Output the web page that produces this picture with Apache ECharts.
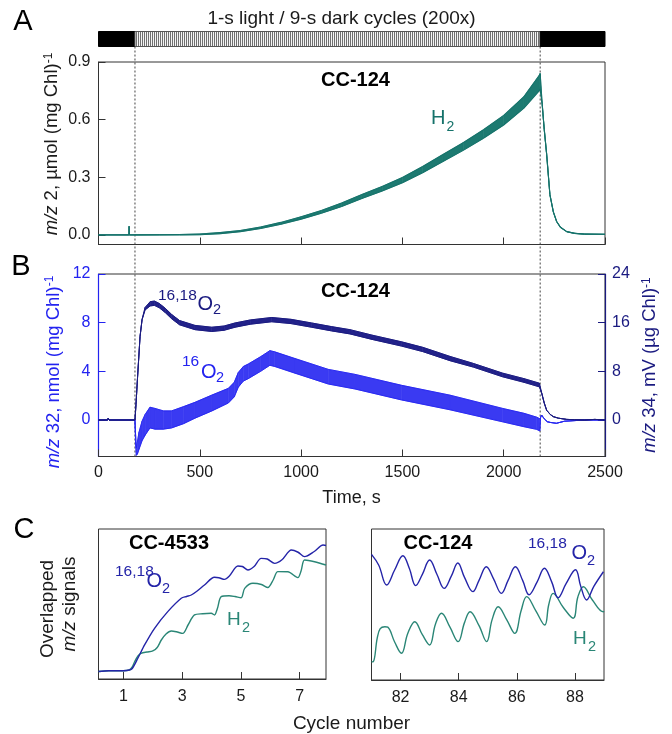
<!DOCTYPE html>
<html><head><meta charset="utf-8">
<script src="https://cdn.jsdelivr.net/npm/echarts@6/dist/echarts.min.js"></script>
<style>html,body{margin:0;padding:0;background:#fff}#c{width:672px;height:734px}</style>
</head><body><div id="c"></div>
<script>
// ---------------- data ----------------
const timeTicks = [0, 500, 1000, 1500, 2000, 2500];
const aTicks = [0, 0.3, 0.6, 0.9];
const bLeftTicks = [0, 4, 8, 12];
const bRightTicks = [0, 8, 16, 24];
const c1Ticks = [1, 3, 5, 7];
const c2Ticks = [82, 84, 86, 88];

const lightStart = [0, 180, 2180];
const lightEnd = [180, 2180, 2500];
const lightKind = ['dark', 'cycles', 'dark'];
const dashedTimes = [180, 2180];

// Panel A: H2 envelope (umol/mg Chl)
const h2Time = [0,150,151,152,180,300,400,500,600,700,800,900,1000,1100,1200,1300,1400,1500,1600,1700,1800,1900,2000,2100,2175,2180,2190,2200,2212,2228,2245,2261,2280,2311,2350,2400,2500];
const h2Low  = [0,0,0,0,0,0,0,0.001,0.006,0.017,0.033,0.055,0.082,0.113,0.148,0.19,0.228,0.271,0.324,0.382,0.44,0.503,0.572,0.66,0.75,0.76,0.68,0.55,0.42,0.21,0.12,0.07,0.04,0.017,0.008,0.004,0.003];
const h2High = [0,0,0.045,0,0,0.001,0.002,0.005,0.012,0.023,0.041,0.065,0.094,0.127,0.166,0.21,0.252,0.299,0.356,0.418,0.48,0.547,0.622,0.72,0.83,0.84,0.68,0.55,0.42,0.21,0.12,0.07,0.04,0.017,0.008,0.004,0.003];

// Panel B: 16,18O2 (m/z 34, right axis) envelope
const o1618Time = [0,45,48,52,180,185,192,205,215,230,255,276,300,330,361,400,476,559,620,674,750,855,950,1052,1150,1241,1350,1496,1600,1735,1850,1995,2100,2176,2187,2200,2212,2230,2245,2270,2311,2350,2400,2450,2500];
const o1618Low  = [0,0,0.3,0,0,2.5,6.6,13.7,16.5,18.1,18.75,18.85,18.45,17.65,16.65,15.65,14.85,14.55,14.75,15.25,15.75,16.15,15.85,15.25,14.65,14.15,13.25,12.15,11.25,9.75,8.7,7.1,6.2,5.45,4.5,2.8,1.6,0.9,0.55,0.3,0.1,0.05,0,0.1,0];
const o1618High = [0,0,0.3,0,0,2.5,6.6,13.7,16.5,18.5,19.45,19.55,19.15,18.35,17.35,16.35,15.55,15.25,15.45,15.95,16.45,16.85,16.55,15.95,15.35,14.85,13.95,12.85,11.95,10.45,9.3,7.7,6.8,6.05,4.5,2.8,1.6,0.9,0.55,0.3,0.1,0.05,0,0.1,0];

// Panel B: 16O2 (m/z 32, left axis) envelope
const o16Time = [0,45,48,52,180,183,187,192,200,215,230,254,279,320,361,420,476,560,641,670,690,715,739,800,846,870,970,1134,1266,1496,1735,1995,2100,2163,2178,2182,2187,2200,2215,2230,2260,2300,2400,2500];
const o16Low  = [0,0,0.1,0,0,-1.8,-2.9,-2.8,-2.4,-1.7,-1.25,-0.65,-0.75,-0.75,-0.65,-0.3,0.15,0.75,1.4,1.9,2.7,3.2,3.4,4.0,4.5,4.4,3.85,2.96,2.55,1.65,0.84,-0.15,-0.55,-0.77,-0.9,0.2,0.41,0.1,-0.14,-0.2,-0.27,-0.1,0,0];
const o16High = [0,0,0.1,0,0,-1.2,-2.3,-1.8,-1.0,-0.1,0.45,1.05,0.95,0.75,0.75,1.1,1.45,2.05,2.6,3.1,3.9,4.4,4.6,5.2,5.7,5.6,5.05,4.16,3.75,2.85,2.04,0.95,0.55,0.23,0.1,0.2,0.41,0.1,-0.14,-0.2,-0.27,-0.1,0,0];

// Panel C left: CC-4533 (arbitrary units)
const c1O2Cycle = [0.15,0.5,1.0,1.2,1.3,1.49,1.72,2.06,2.51,2.97,3.15,3.31,3.5,3.76,4.1,4.25,4.44,4.6,4.9,5.05,5.24,5.45,5.69,5.9,6.15,6.4,6.72,6.95,7.17,7.5,7.8,7.9];
const c1O2Signal = [5,5.5,5.5,6,7,13.8,22.7,33.8,44.9,53.8,55,56,58.5,62.7,67.8,67.5,66.4,68.5,75.3,75,72.7,75,80.4,80,77.1,79.5,86,84.5,81.6,85,89.3,89];
const c1H2Cycle = [0.15,0.5,1.0,1.2,1.3,1.38,1.5,1.6,1.8,2.0,2.15,2.29,2.45,2.63,2.8,3.02,3.2,3.42,3.7,3.99,4.1,4.2,4.33,4.6,4.8,5.01,5.13,5.41,5.7,5.92,6.1,6.26,6.6,6.94,7.05,7.17,7.51,7.9];
const c1H2Signal = [5,5.5,5.5,6,8,11.5,15.5,17.1,18,18.7,21,26,30,32,31.5,30.4,36,42.7,43.5,43.8,42.7,47,54.9,55.5,55,54.2,60.4,63.8,63,61,66,71.6,71.5,67.6,72,79.3,78.2,76];

// Panel C right: CC-124 (arbitrary units)
const c2O2Cycle = [81.0,81.25,81.52,81.8,82.08,82.3,82.52,82.75,83.0,83.25,83.5,83.75,83.97,84.2,84.49,84.7,84.95,85.2,85.47,85.7,85.95,86.2,86.42,86.7,86.95,87.2,87.42,87.7,88.02,88.2,88.4,88.65,88.98];
const c2O2Signal = [83.2,76,62.9,73,82.3,74,62.5,70,79.5,70,60.7,69,77.5,68,58.5,66,75,67,57.4,66,75,66,56.5,65,74,65,54.5,64,73,62,53,62,71.7];
const c2H2Cycle = [81.0,81.06,81.2,81.3,81.46,81.56,81.8,82.03,82.25,82.49,82.75,83.0,83.2,83.41,83.7,83.98,84.2,84.39,84.7,84.96,85.15,85.36,85.65,85.93,86.15,86.34,86.65,86.96,87.1,87.25,87.6,87.94,88.1,88.29,88.6,88.98,89.0];
const c2H2Signal = [12,12.1,28,34,35.3,35,25,17.7,31,38.6,30,23.2,37,44.2,35,25.4,38,45.2,36,25.4,40,48.5,40,30.9,46,55.2,46,36.4,50,57.4,48,40.9,55,61.8,53,45.2,45.5];

// ---------------- style ----------------
const FONT = '"Liberation Sans", Arial, Helvetica, sans-serif';
const TEAL_A = '#15726a';
const TEAL_C = '#2a8676';
const BLUE = '#2323f0';
const NAVY = '#1a1a80';
const O2C = '#2424a8';
const INK = '#1a1a1a';
const BOX = '#333';

function zip(xs, ys) { return xs.map((x, i) => [x, ys[i]]); }

// envelope band drawn as quads between consecutive samples, through the axis scales
function band(xs, lo, hi, color, fill, xi, yi, z, sw) {
  const data = [];
  for (let i = 0; i < xs.length - 1; i++) {
    data.push([xs[i], lo[i], hi[i], xs[i + 1], lo[i + 1], hi[i + 1]]);
  }
  return {
    type: 'custom', xAxisIndex: xi, yAxisIndex: yi, silent: true, z,
    encode: { x: [0, 3], y: [1, 2, 4, 5] },
    data,
    renderItem: function (params, api) {
      const a = api.coord([api.value(0), api.value(1)]);
      const b = api.coord([api.value(3), api.value(4)]);
      const c = api.coord([api.value(3), api.value(5)]);
      const d = api.coord([api.value(0), api.value(2)]);
      return { type: 'group', children: [
        { type: 'polygon', shape: { points: [a, b, c, d] }, style: { fill: fill, stroke: fill, lineWidth: 0.6 } },
        { type: 'polyline', shape: { points: [a, b] }, style: { fill: null, stroke: color, lineWidth: sw } },
        { type: 'polyline', shape: { points: [d, c] }, style: { fill: null, stroke: color, lineWidth: sw } }
      ] };
    }
  };
}

const cv = document.createElement('canvas');
cv.width = 2; cv.height = 2;
const cx = cv.getContext('2d');
cx.fillStyle = '#f4f4f4'; cx.fillRect(0, 0, 2, 2);
cx.fillStyle = '#707070'; cx.fillRect(0, 0, 1, 2);
const stripe = { image: cv, repeat: 'repeat' };

function t(x, y, s, size, color, extra) {
  return Object.assign({ type: 'text', x, y, silent: true, style: {
    text: s, font: size + 'px ' + FONT, fill: color,
    textAlign: 'left', align: 'left', textVerticalAlign: 'middle', verticalAlign: 'middle' } }, extra || {});
}
function tc(x, y, s, font, color) {
  return { type: 'text', x, y, silent: true, style: { text: s, font: font, fill: color,
    textAlign: 'center', align: 'center', textVerticalAlign: 'middle', verticalAlign: 'middle' } };
}
function vtitle(x, y, s, color, size) {
  return { type: 'text', x, y, rotation: Math.PI / 2, silent: true, style: {
    text: s, font: size + 'px ' + FONT, fill: color,
    textAlign: 'center', align: 'center', textVerticalAlign: 'middle', verticalAlign: 'middle',
    rich: {
      i: { font: 'italic ' + size + 'px ' + FONT, fill: color },
      n: { font: size + 'px ' + FONT, fill: color },
      sup: { font: '12px ' + FONT, fill: color, verticalAlign: 'top' }
    } } };
}

const tickLbl = (c) => ({ fontSize: 16, color: c, fontFamily: FONT });

const xTime = (grid, showLabel) => ({
  gridIndex: grid, type: 'value', min: 0, max: 2500, interval: 500,
  axisLine: { show: true, onZero: false, lineStyle: { color: BOX, width: 1 } },
  axisTick: { inside: true, length: 7, lineStyle: { color: BOX } },
  axisLabel: Object.assign({ show: showLabel, margin: 8, showMinLabel: true, showMaxLabel: true,
    formatter: v => String(v) }, tickLbl(INK)),
  splitLine: { show: false }
});
const hiddenAxis = (grid, min, max) => ({ gridIndex: grid, type: 'value', min, max, show: false, splitLine: { show: false } });

const option = {
  animation: false,
  backgroundColor: '#fff',
  grid: [
    { left: 98.5, top: 62, width: 506.5, height: 182.5, show: true, borderColor: BOX, borderWidth: 1 },
    { left: 98.5, top: 274, width: 506.5, height: 182.5, show: true, borderColor: BOX, borderWidth: 1 },
    { left: 98.5, top: 529, width: 227.5, height: 150, show: true, borderColor: BOX, borderWidth: 1 },
    { left: 371.5, top: 529, width: 232.5, height: 151, show: true, borderColor: BOX, borderWidth: 1 },
    { left: 98.5, top: 31.5, width: 506.5, height: 15 },
    { left: 98.5, top: 46.5, width: 506.5, height: 410 }
  ],
  xAxis: [
    xTime(0, false),
    xTime(1, true),
    { gridIndex: 2, type: 'value', min: 0.15, max: 7.9,
      axisLine: { onZero: false, lineStyle: { color: BOX } },
      axisTick: { inside: true, length: 7, customValues: c1Ticks, lineStyle: { color: BOX } },
      axisLabel: Object.assign({ customValues: c1Ticks, margin: 10 }, tickLbl(INK)), splitLine: { show: false } },
    { gridIndex: 3, type: 'value', min: 81, max: 89,
      axisLine: { onZero: false, lineStyle: { color: BOX } },
      axisTick: { inside: true, length: 7, customValues: c2Ticks, lineStyle: { color: BOX } },
      axisLabel: Object.assign({ customValues: c2Ticks, margin: 10 }, tickLbl(INK)), splitLine: { show: false } },
    hiddenAxis(4, 0, 2500),
    hiddenAxis(5, 0, 2500)
  ],
  yAxis: [
    { gridIndex: 0, type: 'value', min: -0.05, max: 0.9,
      axisLine: { show: true, onZero: false, lineStyle: { color: BOX } },
      axisTick: { show: true, inside: true, length: 7, customValues: aTicks, lineStyle: { color: BOX } },
      axisLabel: Object.assign({ customValues: aTicks, margin: 8, formatter: v => Number(v).toFixed(1) }, tickLbl(INK)),
      splitLine: { show: false } },
    { gridIndex: 1, type: 'value', min: -3, max: 12, position: 'left',
      axisLine: { show: true, onZero: false, lineStyle: { color: BLUE, width: 1.2 } },
      axisTick: { show: true, inside: true, length: 7, customValues: bLeftTicks, lineStyle: { color: BLUE } },
      axisLabel: Object.assign({ customValues: bLeftTicks, margin: 8 }, tickLbl(BLUE)),
      splitLine: { show: false } },
    { gridIndex: 1, type: 'value', min: -6, max: 24, position: 'right',
      axisLine: { show: true, onZero: false, lineStyle: { color: NAVY, width: 1.2 } },
      axisTick: { show: true, inside: true, length: 7, customValues: bRightTicks, lineStyle: { color: NAVY } },
      axisLabel: Object.assign({ customValues: bRightTicks, margin: 7 }, tickLbl(NAVY)),
      splitLine: { show: false } },
    { gridIndex: 2, type: 'value', min: 0, max: 100, show: false, splitLine: { show: false } },
    { gridIndex: 3, type: 'value', min: 0, max: 100, show: false, splitLine: { show: false } },
    hiddenAxis(4, 0, 1),
    hiddenAxis(5, 0, 1)
  ],
  series: [].concat(
    [{
      type: 'custom', xAxisIndex: 4, yAxisIndex: 5, silent: true,
      encode: { x: [0, 1], y: 2 },
      data: lightStart.map((s, i) => [s, lightEnd[i], 0.5, i]),
      renderItem: function (params, api) {
        const i = api.value(3);
        const p0 = api.coord([api.value(0), 1]);
        const p1 = api.coord([api.value(1), 0]);
        const dark = lightKind[i] === 'dark';
        return { type: 'rect', shape: { x: p0[0], y: p0[1], width: p1[0] - p0[0], height: p1[1] - p0[1] },
          style: { fill: dark ? '#000' : stripe, stroke: dark ? '#000' : '#555', lineWidth: 1 } };
      }
    }],
    dashedTimes.map(d => ({ type: 'line', xAxisIndex: 5, yAxisIndex: 6, symbol: 'none', silent: true,
      data: [[d, 0], [d, 1]], lineStyle: { color: '#444', width: 1, type: [2, 2] }, z: 1 })),
    [
      band(h2Time, h2Low, h2High, TEAL_A, '#1d7a71', 0, 0, 3, 1.1),
      band(o16Time, o16Low, o16High, BLUE, '#3a3af2', 1, 1, 3, 0.9),
      band(o1618Time, o1618Low, o1618High, NAVY, '#22228a', 1, 2, 4, 1),
      { type: 'line', xAxisIndex: 2, yAxisIndex: 3, symbol: 'none', smooth: 0.3, data: zip(c1H2Cycle, c1H2Signal), lineStyle: { color: TEAL_C, width: 1.4 }, z: 3 },
      { type: 'line', xAxisIndex: 2, yAxisIndex: 3, symbol: 'none', smooth: 0.3, data: zip(c1O2Cycle, c1O2Signal), lineStyle: { color: O2C, width: 1.4 }, z: 4 },
      { type: 'line', xAxisIndex: 3, yAxisIndex: 4, symbol: 'none', smooth: 0.4, data: zip(c2H2Cycle, c2H2Signal), lineStyle: { color: TEAL_C, width: 1.4 }, z: 3 },
      { type: 'line', xAxisIndex: 3, yAxisIndex: 4, symbol: 'none', smooth: 0.4, data: zip(c2O2Cycle, c2O2Signal), lineStyle: { color: O2C, width: 1.4 }, z: 4 }
    ]
  ),
  graphic: { elements: [
    tc(341.5, 19, '1-s light / 9-s dark cycles (200x)', '19px ' + FONT, INK),
    tc(23, 22, 'A', '29px ' + FONT, '#000'),
    tc(21, 267, 'B', '29px ' + FONT, '#000'),
    tc(24, 530, 'C', '29px ' + FONT, '#000'),
    tc(355.5, 80, 'CC-124', 'bold 20px ' + FONT, '#000'),
    tc(355.5, 291.5, 'CC-124', 'bold 20px ' + FONT, '#000'),
    tc(169, 543.5, 'CC-4533', 'bold 20px ' + FONT, '#000'),
    tc(438, 543.5, 'CC-124', 'bold 20px ' + FONT, '#000'),
    t(431, 118.5, 'H', 20, TEAL_A), t(446.5, 127.5, '2', 14, TEAL_A),
    t(158, 296, '16,18', 15.5, NAVY), t(197.5, 304.5, 'O', 20, NAVY), t(213, 310, '2', 14.5, NAVY),
    t(182, 362, '16', 15.5, BLUE), t(201, 372.5, 'O', 20, BLUE), t(216, 378, '2', 14.5, BLUE),
    t(115, 571.5, '16,18', 15.5, O2C), t(146.5, 581, 'O', 20, O2C), t(162, 588.5, '2', 14.5, O2C),
    t(227, 620, 'H', 19, TEAL_C), t(242, 628, '2', 14.5, TEAL_C),
    t(528, 544, '16,18', 15.5, O2C), t(571.5, 553.5, 'O', 20, O2C), t(587, 561, '2', 14.5, O2C),
    t(573, 638.5, 'H', 19, TEAL_C), t(588, 646.5, '2', 14.5, TEAL_C),
    vtitle(52, 144, '{i|m/z}{n| 2, \u00b5mol (mg Chl)}{sup|-1}', INK, 18.5),
    vtitle(53.5, 372, '{i|m/z}{n| 32, nmol (mg Chl)}{sup|-1}', BLUE, 18.5),
    vtitle(650, 365, '{i|m/z}{n| 34, mV (\u00b5g Chl)}{sup|-1}', NAVY, 18.5),
    vtitle(47.5, 609, 'Overlapped', INK, 19),
    vtitle(70, 604, '{i|m/z}{n| signals}', INK, 19),
    tc(351.5, 498, 'Time, s', '18px ' + FONT, INK),
    tc(351.5, 724, 'Cycle number', '19px ' + FONT, INK)
  ] }
};

const chart = echarts.init(document.getElementById('c'), null, { renderer: 'canvas' });
chart.setOption(option);
</script>
</body></html>
